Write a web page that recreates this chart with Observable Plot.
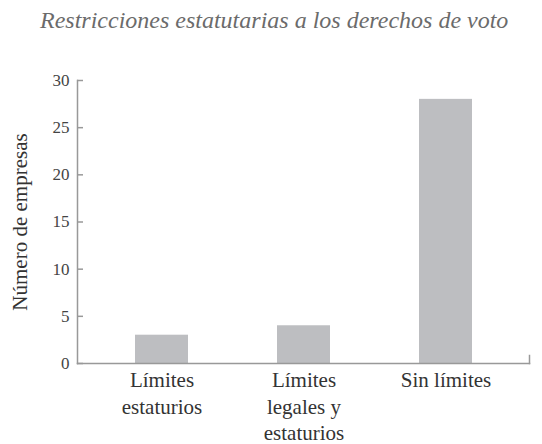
<!DOCTYPE html>
<html><head><meta charset="utf-8">
<script src="https://cdn.jsdelivr.net/npm/d3@7"></script>
<script src="https://cdn.jsdelivr.net/npm/@observablehq/plot@0.6"></script>
<style>
body{margin:0;background:#fff;}
#title{height:50px;box-sizing:border-box;padding-top:7px;padding-left:40px;font-family:"Liberation Serif","Times New Roman",Times,"DejaVu Serif",serif;font-style:italic;font-size:24px;color:#6b6b6b;white-space:nowrap;line-height:1.15;}
#chart svg{display:block;}
</style></head><body>
<div id="title"></div>
<div id="chart"></div>
<script>
const titleText = "Restricciones estatutarias a los derechos de voto";
const yLabel = "Número de empresas";
const categories = ["Límites\nestaturios", "Límites\nlegales y\nestaturios", "Sin límites"];
const values = [3, 4, 28];
const yTicks = [0, 5, 10, 15, 20, 25, 30];

document.getElementById("title").textContent = titleText;
const data = categories.map((c, i) => ({category: c, value: values[i]}));

const FONT = "'Liberation Serif', 'Times New Roman', Times, 'DejaVu Serif', serif";
const H = 394, MT = 30, MB = 81;
const chart = Plot.plot({
  width: 542,
  height: H,
  marginTop: MT,
  marginBottom: MB,
  marginLeft: 77,
  marginRight: 13,
  style: {fontFamily: FONT, background: "#fff", overflow: "visible"},
  x: {domain: categories, paddingInner: 0.627, paddingOuter: 0.4, label: null},
  y: {domain: [0, 30], ticks: yTicks, label: null},
  marks: [
    Plot.barY(data, {x: "category", y: "value", fill: "#bdbec1"}),
    Plot.frame({anchor: "left", stroke: "#999", strokeWidth: 1.5}),
    Plot.frame({anchor: "bottom", stroke: "#999", strokeWidth: 1.5}),
    Plot.frame({anchor: "right", stroke: "#999", strokeWidth: 1.5, insetTop: H - MT - MB - 8}),
    Plot.axisY({ticks: yTicks, tickSize: 0, tickPadding: 8, fontSize: 17, fill: "#444", fontFamily: FONT, label: null}),
    Plot.tickY(yTicks, {y: d => d, stroke: "#999", strokeWidth: 1.5, insetRight: 542 - 77 - 13 - 6}),
    Plot.axisX({tickSize: 0, tickPadding: 5, fontSize: 21, fill: "#333", fontFamily: FONT, lineHeight: 1.26, lineAnchor: "top", label: null}),
    Plot.text([yLabel], {frameAnchor: "left", text: d => d, rotate: -90, textAnchor: "middle", dx: -57, fontSize: 21, fill: "#333", fontFamily: FONT})
  ]
});
document.getElementById("chart").appendChild(chart);
</script>
</body></html>
